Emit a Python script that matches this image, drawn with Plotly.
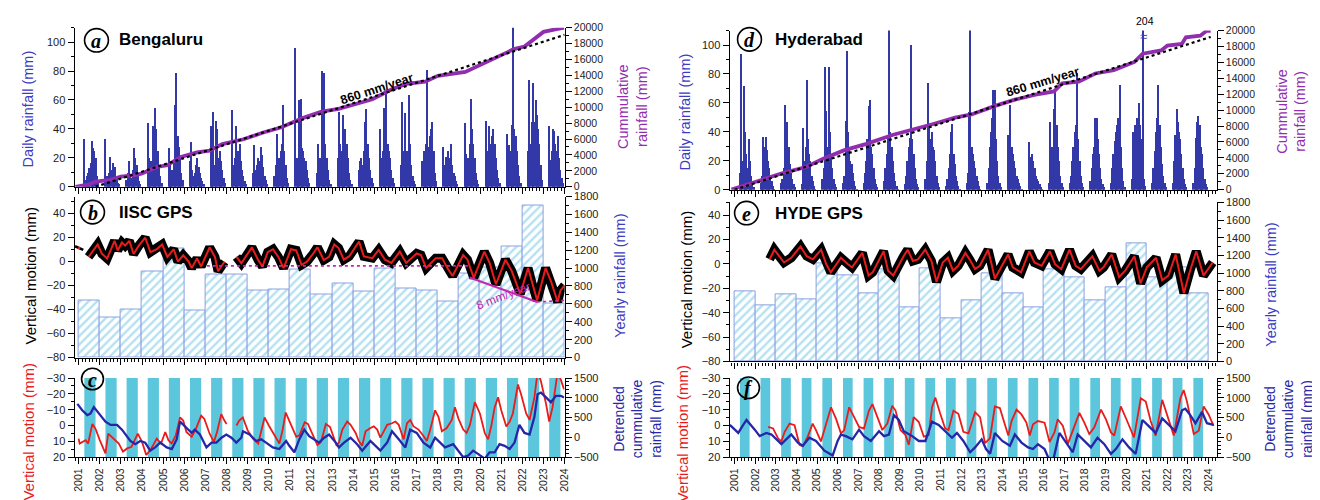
import plotly.graph_objects as go

W, H = 1320, 500
FONT = "Liberation Sans, Arial, sans-serif"

# ---------------- DATA ----------------
YEARS = list(range(2001, 2024))
DAY_OFFSETS = [0.25, 0.31, 0.37, 0.43, 0.49, 0.55, 0.61, 0.67, 0.73, 0.79, 0.85, 0.91]

blr_daily_mm = [
    [33, 5, 8, 10, 13, 17, 32, 27, 25, 20, 8, 3],
    [33, 8, 5, 10, 21, 12, 17, 10, 14, 6, 3, 2],
    [5, 10, 18, 8, 6, 12, 27, 20, 15, 8, 4, 2],
    [44, 20, 12, 18, 42, 40, 55, 40, 25, 15, 8, 3],
    [27, 15, 10, 12, 18, 57, 79, 35, 28, 20, 10, 5],
    [18, 31, 12, 8, 10, 15, 20, 14, 10, 6, 4, 2],
    [42, 20, 52, 15, 46, 40, 20, 25, 18, 12, 6, 3],
    [53, 15, 20, 42, 20, 25, 30, 18, 12, 8, 4, 2],
    [10, 29, 12, 15, 20, 18, 28, 22, 14, 8, 5, 2],
    [8, 15, 37, 18, 20, 25, 30, 57, 25, 15, 6, 3],
    [96, 20, 15, 60, 61, 27, 25, 20, 18, 12, 6, 3],
    [10, 30, 15, 20, 80, 25, 79, 30, 20, 12, 5, 2],
    [20, 52, 30, 25, 50, 35, 40, 30, 20, 10, 5, 2],
    [12, 18, 20, 15, 25, 45, 54, 30, 20, 12, 6, 3],
    [40, 20, 25, 55, 52, 65, 30, 25, 20, 12, 6, 3],
    [15, 59, 25, 51, 20, 25, 64, 30, 15, 8, 4, 2],
    [18, 25, 20, 30, 81, 28, 35, 40, 45, 25, 10, 4],
    [28, 15, 21, 18, 25, 20, 30, 15, 10, 8, 4, 2],
    [44, 23, 15, 20, 30, 61, 40, 30, 20, 10, 5, 2],
    [46, 20, 25, 42, 30, 35, 40, 30, 20, 12, 6, 3],
    [37, 20, 29, 25, 43, 115, 40, 35, 25, 15, 8, 3],
    [25, 74, 30, 45, 72, 45, 60, 50, 40, 30, 15, 5],
    [42, 19, 25, 40, 39, 30, 25, 35, 20, 12, 6, 3],
]
hyd_daily_mm = [
    [12, 94, 20, 72, 40, 25, 15, 35, 20, 10, 5, 2],
    [5, 10, 37, 30, 37, 28, 20, 15, 10, 6, 3, 1],
    [5, 8, 15, 59, 25, 47, 30, 18, 12, 8, 4, 2],
    [4, 43, 20, 30, 76, 35, 25, 20, 10, 6, 3, 1],
    [8, 15, 85, 55, 30, 85, 40, 25, 15, 8, 4, 2],
    [5, 10, 48, 96, 40, 30, 20, 18, 12, 6, 3, 1],
    [5, 12, 20, 35, 58, 62, 30, 25, 15, 8, 4, 2],
    [6, 15, 25, 36, 115, 40, 30, 20, 12, 6, 3, 1],
    [4, 10, 20, 30, 36, 100, 35, 25, 15, 8, 4, 2],
    [8, 20, 74, 45, 35, 40, 30, 28, 20, 10, 5, 2],
    [3, 8, 15, 25, 40, 46, 25, 18, 10, 6, 3, 1],
    [5, 12, 54, 113, 30, 25, 20, 15, 10, 6, 3, 1],
    [5, 15, 30, 40, 50, 69, 69, 35, 20, 10, 5, 2],
    [38, 15, 59, 30, 25, 20, 15, 10, 8, 5, 3, 1],
    [33, 10, 23, 25, 20, 15, 10, 8, 6, 4, 2, 1],
    [5, 47, 30, 25, 56, 69, 45, 30, 20, 10, 5, 2],
    [5, 10, 20, 30, 40, 45, 81, 35, 20, 10, 5, 2],
    [6, 15, 25, 30, 50, 50, 35, 25, 15, 8, 4, 2],
    [5, 15, 25, 34, 40, 45, 50, 73, 30, 15, 6, 2],
    [8, 40, 30, 45, 50, 40, 60, 45, 35, 204, 8, 3],
    [5, 15, 27, 40, 50, 73, 45, 30, 18, 10, 5, 2],
    [5, 20, 38, 56, 47, 40, 35, 25, 15, 8, 4, 2],
    [5, 15, 36, 47, 51, 45, 30, 25, 15, 8, 4, 2],
]

blr_cum_t = [2000.85, 2001.5, 2001.8, 2002.5, 2003.0, 2003.7, 2004.0, 2004.7, 2005.2, 2005.8,
             2006.6, 2007.2, 2007.8, 2008.8, 2009.7, 2010.6, 2011.6, 2012.5, 2013.3, 2014.9,
             2015.8, 2016.5, 2017.4, 2018.0, 2019.3, 2019.9, 2020.8, 2021.6, 2022.1, 2022.6,
             2023.0, 2023.5, 2023.98]
blr_cum_mm = [0, 300, 650, 860, 1260, 1470, 1680, 2490, 2700, 3720,
              4330, 4540, 5360, 5970, 6790, 7480, 8630, 9450, 9800, 11000,
              12230, 12920, 13210, 13950, 14440, 15170, 16200, 17300, 17630, 18650,
              19470, 19750, 20000]
blr_trend_t = [2001.8, 2024.0]
blr_trend_mm = [0, 19100]

hyd_cum_t = [2000.85, 2002.5, 2003.3, 2004.5, 2005.3, 2006.3, 2007.4, 2008.7, 2009.6, 2010.6,
             2011.7, 2012.5, 2013.6, 2014.6, 2015.6, 2016.5, 2016.9, 2017.7, 2018.5, 2019.4,
             2020.4, 2020.8, 2021.7, 2022.0, 2022.7, 2022.9, 2023.6, 2023.9, 2024.1]
hyd_cum_mm = [0, 1440, 2060, 2880, 3900, 4940, 5760, 6910, 7490, 8230,
              9050, 9460, 10500, 11320, 11940, 12350, 13380, 13580, 14610, 15030,
              16060, 17090, 17500, 18120, 18320, 19150, 19350, 19970, 19970]
hyd_trend_t = [2001.0, 2024.1]
hyd_trend_mm = [0, 19200]

blr_yearly_mm = [640, 447, 542, 957, 1222, 531, 931, 924, 745, 756, 985, 705,
                 830, 742, 992, 771, 753, 624, 937, 1010, 1242, 1697, 606]
hyd_yearly_mm = [796, 630, 759, 700, 1111, 974, 767, 1037, 611, 1056, 493, 693,
                 1000, 765, 610, 1042, 950, 691, 839, 1338, 950, 1061, 765]

blr_gps_t = [
    2001.0, 2001.05, None, 2001.47, 2001.65, 2001.9,
    2002.1, 2002.35, 2002.7, 2002.85,
    2003.05, 2003.2, 2003.4, 2003.6, 2003.85,
    2004.15, 2004.4, 2004.7, 2004.95,
    2005.2, 2005.5, 2005.7, 2005.95,
    2006.2, 2006.35, 2006.6, 2006.8,
    2007.2, 2007.45, 2007.6, 2007.9, None,
    2008.47, 2008.7,
    2009.0, 2009.2, 2009.5, 2009.7, 2009.95,
    2010.2, 2010.45, 2010.7,
    2011.05, 2011.3, 2011.55, 2011.8,
    2012.1, 2012.3, 2012.6, 2012.85,
    2013.1, 2013.3, 2013.55, 2013.8,
    2014.27, 2014.5, 2014.9,
    2015.2, 2015.5, 2015.8,
    2016.2, 2016.5,
    2017.0, 2017.2, 2017.45, 2017.9,
    2018.2, 2018.45, 2018.7,
    2019.2, 2019.4, 2019.7,
    2020.2, 2020.45, 2020.75,
    2021.2, 2021.5, 2021.9,
    2022.27, 2022.45, 2022.7,
    2023.1, 2023.35, 2023.67, 2023.8, 2024.0]
blr_gps_mm = [
    10, 12, None, 3.6, 7.6, 14,
    6.3, 2.3, 17, 9,
    15.6, 13, 17, 6, 13,
    19.6, 7.6, 10, 14,
    3.6, 10, -0.4, 5,
    0, -5.7, 2.3, -4.3,
    11.6, 3.6, -8.3, -0.4, None,
    3.6, -1.7,
    6.3, 11.6, 0.9, -4.3, 7.6,
    10, 3.6, -5.7,
    10, 9, -3, -0.4,
    6.3, 11.6, 0.9, 3.6,
    14, 11, 1.3, 4,
    16.3, 4, 2.6,
    9.4, 1.3, -1.4,
    8, -1.4,
    6.5, 5.2, -5.6, 2.6,
    2.6, -5.6, -12.3,
    5.2, 1.3, -13.7,
    8, -1.4, -19.1,
    1.3, -8.2, -27.1,
    -5.6, -17.8, -32.5,
    -5.6, -16.4, -33.9, -24.4, -20]

hyd_gps_t = [
    2002.7, 2002.93,
    2003.1, 2003.4, 2003.75,
    2004.2, 2004.5, 2004.8,
    2005.2, 2005.45, 2005.67,
    2006.16, 2006.5, 2006.7,
    2007.2, 2007.5, 2007.7,
    2008.23, 2008.45, 2008.7,
    2009.2, 2009.4, 2009.65, 2009.9,
    2010.25, 2010.55, 2010.8,
    2011.1, 2011.35, 2011.6, 2011.85,
    2012.2, 2012.4, 2012.67, 2012.9,
    2013.3, 2013.45, 2013.63,
    2014.27, 2014.5, 2014.9,
    2015.3, 2015.55, 2015.9,
    2016.3, 2016.55, 2016.85,
    2017.25, 2017.55, 2017.8,
    2018.36, 2018.7, 2018.9,
    2019.3, 2019.66, 2019.95,
    2020.4, 2020.7,
    2021.0, 2021.45, 2021.75, 2022.05,
    2022.4, 2022.8,
    2023.1, 2023.4, 2023.75, 2024.2]
hyd_gps_mm = [
    3.7, 11.6,
    7.7, 1.1, 5,
    14.3, 6.3, 3.7,
    11.6, -0.3, -7,
    5, -0.3, -2.9,
    9, -9.6, -7,
    10.3, -5.6, -9.6,
    6.3, 11.6, 2.4, 3.7,
    11.6, 2.4, -14.8,
    1.1, 5, -5.6, -1.6,
    9, 3.7, -4.3, -1.6,
    11.6, 1.1, -12.2,
    7.7, -2.9, -7,
    10.3, 1.1, -1.6,
    10.3, -0.3, -4.3,
    11.6, -1.6, -4.3,
    6.3, -5.6, -2.9,
    7.7, -10.9, -5.6,
    6.3, -16.1,
    -2.9, 5, -13.5, -9.6,
    7.7, -24,
    -5.6, 10.3, -9.6, 1.1]

blr_ref_t = [2007.07, 2019.5]
blr_ref_mm = [-3.8, -3.8]
blr_rate_t = [2019.5, 2022.7]
blr_rate_mm = [-13.5, -33.8]
blr_tail_t = [2022.7, 2024.0]
blr_tail_mm = [-33.8, -32.5]

blr_vm_t = [
    2001.0, 2001.05, 2001.33, 2001.45, 2001.65, 2001.8,
    2002.0, 2002.27, 2002.4, 2002.65, 2002.9,
    2003.1, 2003.3, 2003.5, 2003.65, 2003.8,
    2004.0, 2004.2, 2004.4, 2004.7, 2004.9,
    2005.1, 2005.25, 2005.4, 2005.6, 2005.8, 2005.95,
    2006.1, 2006.35, 2006.55, 2006.8, 2006.95,
    2007.2, 2007.4, 2007.55, 2007.75, 2007.9, 2008.0, None,
    2008.47, 2008.6, 2008.77,
    2009.0, 2009.25, 2009.5, 2009.65, 2009.8,
    2010.0, 2010.27, 2010.5, 2010.65, 2010.8,
    2011.0, 2011.3, 2011.45, 2011.7, 2011.85,
    2012.1, 2012.3, 2012.47, 2012.7, 2012.9,
    2013.2, 2013.32, 2013.48, 2013.71, 2013.87,
    2014.11, 2014.26, 2014.42, 2014.58, 2014.81, 2014.97,
    2015.13, 2015.28, 2015.44, 2015.6, 2015.83, 2015.99,
    2016.15, 2016.38, 2016.54, 2016.69, 2016.85,
    2017.09, 2017.32, 2017.48, 2017.64, 2017.87,
    2018.03, 2018.19, 2018.42, 2018.66, 2018.81, 2018.97,
    2019.2, 2019.36, 2019.52, 2019.75, 2019.99,
    2020.22, 2020.38, 2020.54, 2020.69, 2020.85,
    2021.0, 2021.24, 2021.4, 2021.55, 2021.79, 2021.94,
    2022.18, 2022.34, 2022.57, 2022.72, 2022.88,
    2023.12, 2023.27, 2023.43, 2023.66, 2023.82, 2023.97]
blr_vm_mm = [
    8.3, 11.4, 9.3, 11.4, -1, 2.1,
    9.3, 17.6, 5.2, 8.3, 11.4,
    16.5, 14.5, 13.5, 9.3, 5.2,
    10.4, 18.6, 15.5, 8.3, 11.4,
    4.1, 9.3, 11.4, 6.2, -5.1, -3.1,
    4.1, 7.2, 2.1, -6.2, -4.1,
    5.2, 10.4, 4.1, -7.2, -3.1, -1, None,
    0, -3.1, -5.1,
    3.1, 8.3, 11.4, 3.1, -5.1,
    0, 6.2, 11.4, 3.1, -8.2,
    -2, 7.2, 6.2, -2, -1,
    6.2, 12.4, 10.4, -1, 1,
    12.4, 10.8, 2.6, -2.5, -0.4,
    4.7, 9.8, 12.8, 3.7, 1.6, 0.6,
    2.6, 7.7, 3.7, -0.4, -1.4, -2.5,
    -0.4, 8.8, -1.4, -3.5, 0.6,
    2.6, 6.7, 9.8, 2.6, -9.6,
    -5.5, 3.7, 1.6, -3.5, -11.6, -4.5,
    2.6, 4.7, -0.4, -14.7, -7.6,
    4.7, 8.8, -0.4, -11.6, -17.8,
    -9.6, 0.6, -2.5, -7.6, -25.9, -19.8,
    -7.6, -3.5, -17.8, -34, -28,
    -13.7, -2.5, -11.6, -33, -29, -22.9]

blr_dcr_t = [
    2000.94, 2001.17, 2001.41, 2001.56, 2001.72, 2001.96, 2002.27, 2002.51, 2002.82, 2003.05,
    2003.45, 2003.68, 2003.92, 2004.15, 2004.39, 2004.62, 2004.86, 2005.17, 2005.41, 2005.64,
    2005.8, 2006.11, 2006.35, 2006.5, 2006.74, 2007.05, 2007.29, 2007.52, 2007.76, 2007.99,
    2008.23, 2008.46, 2008.7, 2008.78, 2009.09, 2009.4, 2009.64, 2009.87, 2010.19, 2010.5,
    2010.82, 2010.97, 2011.13, 2011.21, 2011.44, 2011.68, 2011.91, 2012.15, 2012.38, 2012.62,
    2012.85, 2013.17, 2013.32,
    2013.56, 2013.87, 2014.18, 2014.42, 2014.81, 2015.05, 2015.28, 2015.6, 2015.83, 2016.15,
    2016.46, 2016.69, 2017.0, 2017.32, 2017.64, 2017.87, 2018.11, 2018.34, 2018.73, 2018.97,
    2019.2, 2019.44, 2019.67, 2019.9, 2020.22, 2020.45, 2020.69, 2020.92, 2021.16, 2021.4,
    2021.63, 2021.86, 2022.1, 2022.34, 2022.57, 2022.72, 2022.88, 2023.12, 2023.35, 2023.59,
    2023.82, 2023.97]
blr_dcr_mm = [
    847, 684, 561, 602, 765, 602, 398, 316, 316, 194,
    -92, -173, -92, -133, -337, -255, -133, -255, -296, -51,
    398, 235, 112, 194, 71, -255, -133, -133, -10, 71,
    -10, -133, -10, 153, 71, -92, -51, -133, -255, -296,
    -92, -214, -337, -378, -51, 194, 31, -51, -133, -10,
    71, -133, -255,
    -133, -10, -173, -337, -92, -214, -337, -133, 153, -51,
    -255, 194, 112, -133, -255, -10, -133, -255, -173, -337,
    -500, -459, -337, -418, -541, -378, -378, -173, -214, -296,
    -133, 316, 112, 71, 520, 1092, 1133, 1010, 888, 1051,
    1051, 1010]

hyd_vm_t = [
    2002.63, 2002.87, 2003.11, 2003.27, 2003.43, 2003.67, 2003.91, 2004.15, 2004.31, 2004.55,
    2004.79, 2004.95, 2005.19, 2005.36, 2005.52, 2005.68, 2005.92, 2006.16, 2006.32, 2006.56,
    2006.8, 2007.04, 2007.28, 2007.52, 2007.69, 2007.93, 2008.17, 2008.41, 2008.65, 2008.81,
    2009.05, 2009.29, 2009.45, 2009.69, 2009.94, 2010.18, 2010.42, 2010.58, 2010.74, 2010.98,
    2011.22, 2011.38, 2011.62, 2011.86, 2012.1, 2012.35, 2012.67, 2012.91, 2013.15, 2013.39,
    2013.63, 2013.87, 2014.1, 2014.28, 2014.44, 2014.68, 2014.92, 2015.16, 2015.32, 2015.48,
    2015.72, 2016.04, 2016.28, 2016.52, 2016.68, 2016.93, 2017.17, 2017.41, 2017.73, 2017.97,
    2018.21, 2018.45, 2018.78, 2019.02, 2019.26, 2019.42, 2019.74, 2019.98, 2020.22, 2020.38,
    2020.71, 2020.95, 2021.19, 2021.43, 2021.75, 2021.99, 2022.31, 2022.63, 2022.79, 2022.95,
    2023.28, 2023.52, 2023.76, 2024.0, 2024.24]
hyd_vm_mm = [
    0.9, 1.9, 8.1, 10.1, 4, -1.2, -0.2, 12.2, 13.2, 7,
    -1.2, 2.9, 10.1, 2.9, -5.3, -11.5, -4.3, 5, 2.9, -11.5,
    -5.3, 0.9, 1.9, -9.4, -13.5, -5.3, 2.9, -1.2, -12.5, -9.4,
    2.9, 6, 12.2, -5.3, -2.2, 7, 6, -11.5, -17.7, -7.4,
    1.9, 2.9, -9.4, -7.4, 4, 5, -8.4, -5.3, 11.2, 8.1,
    -12, -11, -1.8, 6.4, -2.8, -10, -7, -1.8, 6.4, -0.8,
    -2.8, -1.8, 10.5, 4.4, -3.9, 0.3, 11.6, 3.3, -8, -1.8,
    5.4, 1.3, -10, -3.9, 4.4, 6.4, -12.1, -4.9, 2.3, 7.5,
    -17.2, -15.2, -2.8, 6.4, -16.2, -7, 6.4, -17.2, -22.4, -15.2,
    5.4, 3.3, -12.1, -7, 0.3]

hyd_dcr_t = [
    2000.77, 2001.18, 2001.42, 2001.58, 2001.98, 2002.22, 2002.54, 2002.79, 2003.27, 2003.51,
    2003.75, 2004.07, 2004.31, 2004.63, 2004.95, 2005.36, 2005.76, 2006.0, 2006.16, 2006.4,
    2006.72, 2007.04, 2007.28, 2007.61, 2008.01, 2008.25, 2008.49, 2008.73, 2008.97, 2009.21,
    2009.62, 2009.94, 2010.26, 2010.58, 2010.9, 2011.22, 2011.55, 2011.79, 2012.1, 2012.43,
    2012.67, 2012.99, 2013.2, 2013.4, 2013.63, 2013.99, 2014.36, 2014.6, 2014.92, 2015.24,
    2015.48, 2015.72, 2016.04, 2016.28, 2016.44, 2016.6, 2016.76, 2017.09, 2017.41, 2017.65,
    2017.97, 2018.29, 2018.61, 2018.94, 2019.26, 2019.5, 2019.82, 2020.14, 2020.46, 2020.79,
    2021.11, 2021.43, 2021.75, 2022.07, 2022.39, 2022.71, 2022.87, 2023.11, 2023.36, 2023.68,
    2023.92, 2024.24]
hyd_dcr_mm = [
    316, 112, 316, 439, 194, 31, 112, 71, -173, -51,
    71, -133, -214, -10, -92, -337, -459, -92, 71, 31,
    -51, 194, 31, -92, 153, 31, 71, 561, 439, 153,
    31, -92, -92, 398, 316, 153, -10, 112, -92, -378,
    -255, -51, -296, -418, 112, -92, -214, 71, -133, -255,
    -296, -173, -296, -582, -622, -255, 112, -133, -378, 71,
    -92, -255, -10, -173, -418, -296, -51, -255, -418, 439,
    276, 112, 480, 316, 153, 684, 724, 561, 357, 643,
    357, 316]

MONSOON_BLR = (0.27, 0.80)
MONSOON_HYD = (0.26, 0.73)

# ---------------- STYLE ----------------
BAR_BLUE = "rgb(50,56,168)"
PURPLE = "rgb(145,45,175)"
RED = "rgb(232,28,28)"
DBLUE = "rgb(38,38,168)"
CYAN = "rgb(92,198,220)"
HATCH = "rgb(105,195,228)"
OUTLINE = "rgb(140,160,225)"
MAGENTA = "rgb(195,40,175)"
TBLUE = "rgb(60,60,195)"


def px(x):
    return x / W


def py(y):
    return 1 - y / H


def xax(d0, d1, rng, anchor, labels):
    return dict(domain=[px(d0), px(d1)], range=rng, anchor=anchor, showline=True,
                linecolor="black", linewidth=1.2, ticks="outside", ticklen=6, tickwidth=1,
                tickcolor="black", tickmode="linear", tick0=2001, dtick=1,
                showticklabels=labels, tickangle=-90, tickformat="d",
                tickfont=dict(family=FONT, size=10.5, color="#222"),
                minor=dict(ticks="outside", ticklen=3, tickwidth=1, tickcolor="black",
                           dtick=1 / 6, tick0=2001),
                showgrid=False, zeroline=False)


def yax(top, bottom, rng, anchor, side, dtick, minor, overlaying=None, size=11):
    d = dict(domain=[py(bottom), py(top)], range=rng, anchor=anchor, side=side,
             showline=True, linecolor="black", linewidth=1.2, ticks="outside", ticklen=6,
             tickwidth=1, tickcolor="black", tickmode="linear", tick0=0, dtick=dtick,
             tickformat="d", exponentformat="none",
             tickfont=dict(family=FONT, size=size, color="#222"),
             minor=dict(ticks="outside", ticklen=3, tickwidth=1, tickcolor="black",
                        dtick=minor, tick0=0),
             showgrid=False, zeroline=False)
    if overlaying:
        d["overlaying"] = overlaying
    return d


fig = go.Figure()


def add_city(daily, cum_t, cum_mm, tr_t, tr_mm, yearly, gps_t, gps_mm,
             vm_t, vm_mm, dcr_t, dcr_mm, ax):
    xa, xb, xc, ya, ya2, yb, yb2, yc, yc2 = ax
    bx = [y + o for y in YEARS for o in DAY_OFFSETS]
    by = [v for row in daily for v in row]
    fig.add_trace(go.Bar(x=bx, y=by, width=0.06, marker=dict(color=BAR_BLUE, line=dict(width=0)),
                         xaxis=xa, yaxis=ya))
    fig.add_trace(go.Scatter(x=cum_t, y=cum_mm, mode="lines",
                             line=dict(color=PURPLE, width=3.8), xaxis=xa, yaxis=ya2))
    fig.add_trace(go.Scatter(x=tr_t, y=tr_mm, mode="lines",
                             line=dict(color="black", width=2.2, dash="dot"), xaxis=xa, yaxis=ya2))
    fig.add_trace(go.Bar(x=[y + 0.5 for y in YEARS], y=yearly, width=1,
                         marker=dict(color="white", line=dict(color=OUTLINE, width=1),
                                     pattern=dict(shape="/", fgcolor=HATCH, bgcolor="white",
                                                  size=6, solidity=0.4)),
                         xaxis=xb, yaxis=yb))
    # GPS daily scatter drawn as a wide black band, red model on top
    fig.add_trace(go.Scatter(x=gps_t, y=gps_mm, mode="lines",
                             line=dict(color="black", width=9), xaxis=xb, yaxis=yb2))
    fig.add_trace(go.Scatter(x=gps_t, y=gps_mm, mode="lines",
                             line=dict(color=RED, width=2), xaxis=xb, yaxis=yb2))
    fig.add_trace(go.Scatter(x=vm_t, y=vm_mm, mode="lines",
                             line=dict(color=RED, width=1.8), xaxis=xc, yaxis=yc))
    fig.add_trace(go.Scatter(x=dcr_t, y=dcr_mm, mode="lines",
                             line=dict(color=DBLUE, width=2.3), xaxis=xc, yaxis=yc2))


add_city(blr_daily_mm, blr_cum_t, blr_cum_mm, blr_trend_t, blr_trend_mm, blr_yearly_mm,
         blr_gps_t, blr_gps_mm, blr_vm_t, blr_vm_mm, blr_dcr_t, blr_dcr_mm,
         ("x", "x2", "x3", "y", "y2", "y3", "y4", "y5", "y6"))
add_city(hyd_daily_mm, hyd_cum_t, hyd_cum_mm, hyd_trend_t, hyd_trend_mm, hyd_yearly_mm,
         hyd_gps_t, hyd_gps_mm, hyd_vm_t, hyd_vm_mm, hyd_dcr_t, hyd_dcr_mm,
         ("x4", "x5", "x6", "y7", "y8", "y9", "y10", "y11", "y12"))

# magenta reference/trend lines on IISC GPS
fig.add_trace(go.Scatter(x=blr_ref_t, y=blr_ref_mm, mode="lines",
                         line=dict(color=MAGENTA, width=1.6, dash="dot"), xaxis="x2", yaxis="y4"))
fig.add_trace(go.Scatter(x=blr_rate_t, y=blr_rate_mm, mode="lines",
                         line=dict(color=MAGENTA, width=2.2), xaxis="x2", yaxis="y4"))
fig.add_trace(go.Scatter(x=blr_tail_t, y=blr_tail_mm, mode="lines",
                         line=dict(color=MAGENTA, width=1.6, dash="dot"), xaxis="x2", yaxis="y4"))

# monsoon spans
shapes = []
for y in YEARS:
    shapes.append(dict(type="rect", xref="x3", yref="y5 domain", x0=y + MONSOON_BLR[0],
                       x1=y + MONSOON_BLR[1], y0=0, y1=1, fillcolor=CYAN,
                       line=dict(width=0), layer="below"))
    shapes.append(dict(type="rect", xref="x6", yref="y11 domain", x0=y + MONSOON_HYD[0],
                       x1=y + MONSOON_HYD[1], y0=0, y1=1, fillcolor=CYAN,
                       line=dict(width=0), layer="below"))

annotations = []


def ann(x, y, text, size=14, color="black", angle=0, family=FONT, xanchor="center"):
    annotations.append(dict(x=px(x), y=py(y), xref="paper", yref="paper", text=text,
                            showarrow=False, textangle=angle, xanchor=xanchor, yanchor="middle",
                            align="center", font=dict(family=family, size=size, color=color)))


def badge(cx, cy, letter, r=12):
    shapes.append(dict(type="circle", xref="paper", yref="paper", x0=px(cx - r), x1=px(cx + r),
                       y0=py(cy + r), y1=py(cy - r), line=dict(color="black", width=1.6)))
    ann(cx, cy + 1, "<b><i>%s</i></b>" % letter, size=20, family="Liberation Serif, serif")


# panel labels
badge(86, 27, "a"); ann(107, 26, "<b>Bengaluru</b>", size=17, xanchor="left")
badge(82, 203, "b"); ann(107, 203, "<b>IISC GPS</b>", size=17, xanchor="left")
badge(82, 374, "c", r=11)
badge(743, 26, "d"); ann(767, 26, "<b>Hyderabad</b>", size=17, xanchor="left")
badge(740, 204, "e"); ann(767, 204, "<b>HYDE GPS</b>", size=17, xanchor="left")
badge(742, 383, "f", r=11)

# axis titles (left half)
ann(17, 97, "Daily rainfall (mm)", size=14.5, color=TBLUE, angle=-90)
ann(20, 268, "Vertical motion (mm)", size=15, color="black", angle=-90)
ann(18, 428, "Vertical motion (mm)", size=15, color=RED, angle=-90)
ann(626, 95, "Cummulative<br>rainfall (mm)", size=14.5, color=PURPLE, angle=-90)
ann(612, 268, "Yearly rainfall (mm)", size=14.5, color=TBLUE, angle=-90)
ann(630, 415, "Detrended<br>cummulative<br>rainfall (mm)", size=14, color=DBLUE, angle=-90)
# axis titles (right half)
ann(678, 100, "Daily rainfall (mm)", size=14.5, color=TBLUE, angle=-90)
ann(680, 272, "Vertical motion (mm)", size=15, color="black", angle=-90)
ann(676, 430, "Vertical motion (mm)", size=15, color=RED, angle=-90)
ann(1288, 100, "Cummulative<br>rainfall (mm)", size=14.5, color=PURPLE, angle=-90)
ann(1268, 277, "Yearly rainfall (mm)", size=14.5, color=TBLUE, angle=-90)
ann(1285, 415, "Detrended<br>cummulative<br>rainfall (mm)", size=14, color=DBLUE, angle=-90)

# in-plot notes
ann(368, 77, "<b>860 mm/year</b>", size=12.5, angle=-18)
ann(1038, 70, "<b>860 mm/year</b>", size=12.5, angle=-17)
ann(495, 289, "8 mm/year", size=12, color=MAGENTA, angle=-21)
ann(1141, 7, "204", size=10.5)
ann(1139, 23, "≈", size=13, color=TBLUE)

L0, L1, R0, R1 = 64, 557, 723, 1213
XR_L = [2000.81, 2024.0]
XR_R = [2000.76, 2024.39]

fig.update_layout(
    width=W, height=H, margin=dict(l=0, r=0, t=0, b=0), autosize=False,
    paper_bgcolor="white", plot_bgcolor="white", showlegend=False, barmode="overlay",
    bargap=0,
    xaxis=xax(L0, L1, XR_L, "y", False),
    yaxis=yax(14, 177, [0, 110], "x", "left", 20, 10),
    yaxis2=yax(14, 177, [0, 20000], "x", "right", 2000, 1000, overlaying="y", size=10.5),
    xaxis2=xax(L0, L1, XR_L, "y3", False),
    yaxis3=yax(187, 352, [0, 1800], "x2", "right", 200, 100),
    yaxis4=yax(187, 352, [-80, 53.8], "x2", "left", 20, 10, overlaying="y3"),
    xaxis3=xax(L0, L1, XR_L, "y5", True),
    yaxis5=yax(373, 454, [20, -30], "x3", "left", 10, 5),
    yaxis6=yax(373, 454, [-500, 1500], "x3", "right", 500, 100, overlaying="y5"),
    xaxis4=xax(R0, R1, XR_R, "y7", False),
    yaxis7=yax(17, 180, [0, 110], "x4", "left", 20, 10),
    yaxis8=yax(17, 180, [0, 20000], "x4", "right", 2000, 1000, overlaying="y7", size=10.5),
    xaxis5=xax(R0, R1, XR_R, "y9", False),
    yaxis9=yax(193, 356, [0, 1800], "x5", "right", 200, 100),
    yaxis10=yax(193, 356, [-80, 50.4], "x5", "left", 20, 10, overlaying="y9"),
    xaxis6=xax(R0, R1, XR_R, "y11", True),
    yaxis11=yax(373, 454, [20, -30], "x6", "left", 10, 5),
    yaxis12=yax(373, 454, [-500, 1500], "x6", "right", 500, 100, overlaying="y11"),
    shapes=shapes, annotations=annotations,
)

fig.write_html("out.html")
